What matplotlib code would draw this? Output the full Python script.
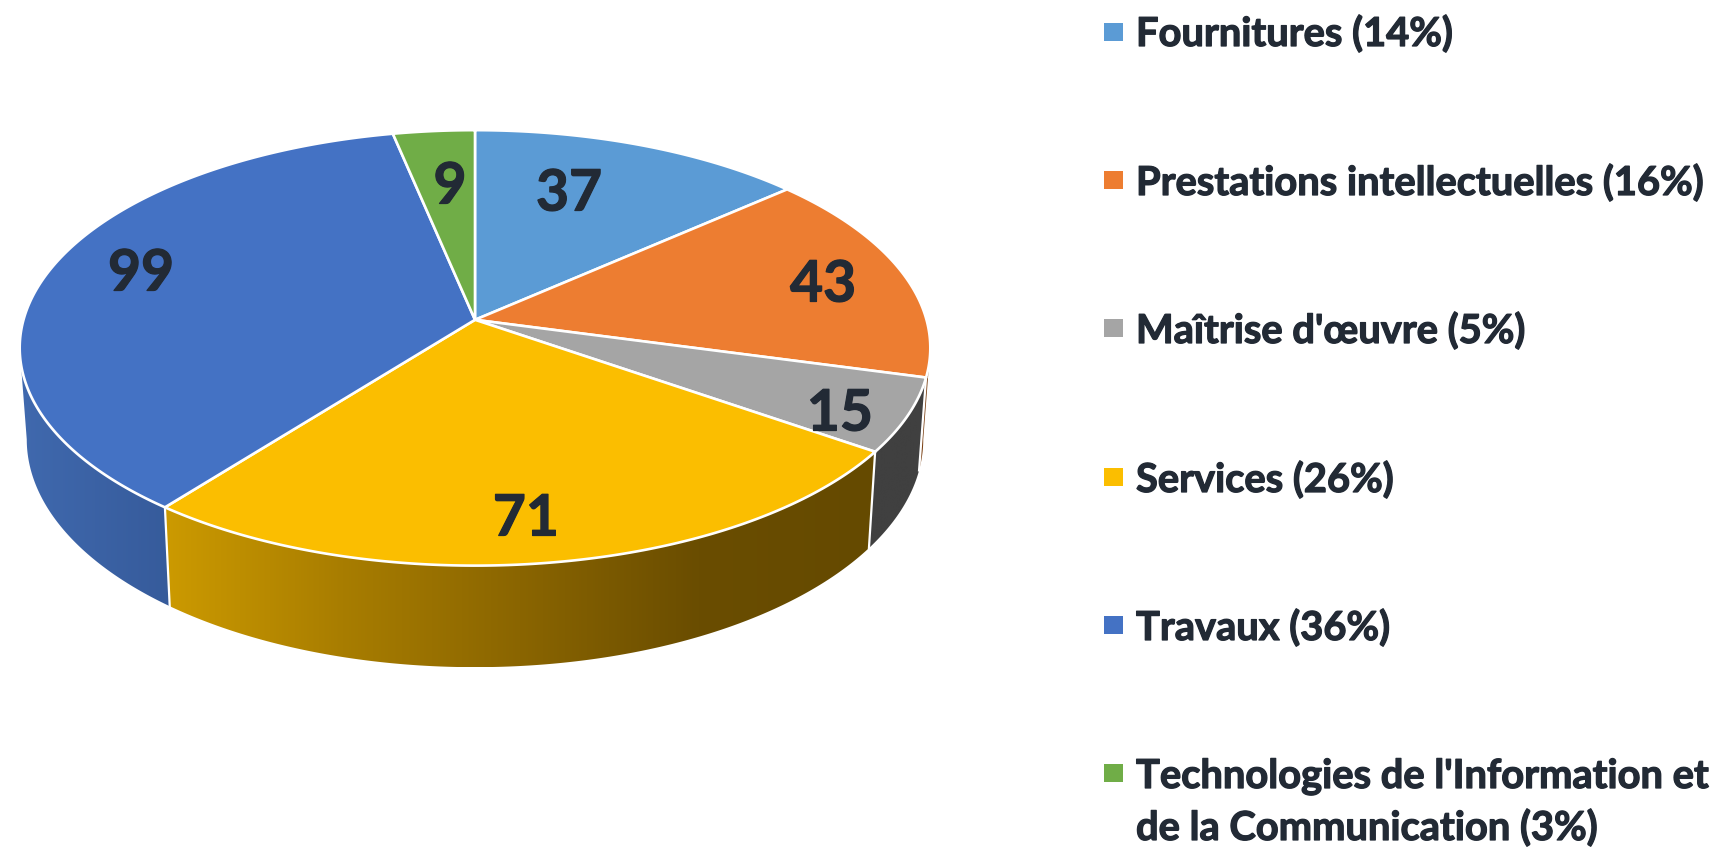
#!/usr/bin/env python3
from __future__ import annotations

import matplotlib

matplotlib.use("Agg")
import matplotlib.patheffects as pe
import matplotlib.pyplot as plt
import numpy as np
from matplotlib.colors import LinearSegmentedColormap
from matplotlib.patches import Polygon, Rectangle

categories = [
    "Fournitures (14%)",
    "Prestations intellectuelles (16%)",
    "Maîtrise d'œuvre (5%)",
    "Services (26%)",
    "Travaux (36%)",
    "Technologies de l'Information et\nde la Communication (3%)",
]
values = [37, 43, 15, 71, 99, 9]
top_colors = ["#5B9BD5", "#ED7D31", "#A5A5A5", "#FBBE00", "#4472C4", "#70AD47"]
# left to right shading of the rim, per slice
side_colors = [
    ["#3B6A96", "#3B6A96"],
    ["#7A3F12", "#7A3F12"],
    ["#404040", "#404040"],
    ["#CC9A00", "#A87D00", "#8A6500", "#6A4D00", "#654A00"],
    ["#4069AE", "#365B9B"],
    ["#4C7530", "#4C7530"],
]

TEXT_COLOR = "#222A35"
FONT = "Lato"

# pixel layout of the fake 3D pie
CX, CY, A, B, K = 475.0, 319.8, 451.5, 214.1, 0.129
CX2, CY2, A2, B2, K2 = 475.0, 410.0, 444.5, 224.0, 0.129
LABEL_XY = [(569, 194), (823, 285), (840, 414), (526, 519), (141, 274), (450, 187)]
LEGEND_Y = [32, 180, 328, 477, 625, 773]
LEGEND_BASE = [46, 195, 343, 492, 640, 788]
LINE_STEP = 52


def top_xy(theta):
    x, y = np.sin(theta), np.cos(theta)
    w = 1 + K * y
    return CX + A * x / w, CY - B * y / w


def bottom_xy(theta):
    x, y = np.sin(theta), np.cos(theta)
    w = 1 + K2 * y
    return CX2 + A2 * x / w, CY2 - B2 * y / w


def draw_side(ax, t0, t1, colors):
    th = np.linspace(t0, t1, 200)
    xt, yt = top_xy(th)
    xb, yb = bottom_xy(th)
    pts = np.column_stack([np.r_[xt, xb[::-1]], np.r_[yt, yb[::-1]]])
    clip = Polygon(pts, closed=True, transform=ax.transData, facecolor="none", edgecolor="none")
    ax.add_patch(clip)
    x0, x1 = pts[:, 0].min(), pts[:, 0].max()
    cmap = LinearSegmentedColormap.from_list("side", colors)
    im = ax.imshow(
        np.linspace(0, 1, 256).reshape(1, -1),
        cmap=cmap,
        extent=(x0, x1, pts[:, 1].max(), pts[:, 1].min()),
        aspect="auto",
        zorder=2,
    )
    im.set_clip_path(clip)


def main() -> None:
    fig = plt.figure(figsize=(17.29, 8.51), dpi=100)
    ax = fig.add_axes([0, 0, 1, 1])
    ax.axis("off")

    angles = np.r_[0, np.cumsum(values)] / sum(values) * 2 * np.pi
    vis0 = np.arccos(-K)
    vis1 = 2 * np.pi - vis0

    # rim first, only the part turned towards the viewer
    for i in range(len(values)):
        t0, t1 = max(angles[i], vis0), min(angles[i + 1], vis1)
        if t1 > t0:
            draw_side(ax, t0, t1, side_colors[i])
    for t in angles[1:-1]:
        if vis0 < t < vis1:
            xt, yt = top_xy(t)
            xb, yb = bottom_xy(t)
            ax.plot([xt, xb], [yt, yb], color="white", lw=1.6, zorder=3)

    for i in range(len(values)):
        th = np.linspace(angles[i], angles[i + 1], 200)
        x, y = top_xy(th)
        ax.fill(np.r_[CX, x], np.r_[CY, y], facecolor=top_colors[i], edgecolor="white", lw=1.9,
                joinstyle="round", zorder=4)

    # the original glyphs are a bit heavier than Lato Bold
    heavy = [pe.withStroke(linewidth=0.9, foreground=TEXT_COLOR)]
    for v, (x, y) in zip(values, LABEL_XY):
        ax.text(x, y, str(v), ha="center", va="center", fontsize=41, fontweight="bold",
                family=FONT, color=TEXT_COLOR, zorder=5, path_effects=heavy)

    for name, color, y, base in zip(categories, top_colors, LEGEND_Y, LEGEND_BASE):
        ax.add_patch(Rectangle((1104, y - 9), 19, 18, facecolor=color, edgecolor="none"))
        for j, line in enumerate(name.split("\n")):
            ax.text(1136, base + j * LINE_STEP, line, ha="left", va="baseline", fontsize=28.7,
                    fontweight="bold", family=FONT, color=TEXT_COLOR, path_effects=heavy)

    ax.set_xlim(0, 1729)
    ax.set_ylim(851, 0)
    fig.savefig("out.png", dpi=100)
    plt.close(fig)


if __name__ == "__main__":
    main()
